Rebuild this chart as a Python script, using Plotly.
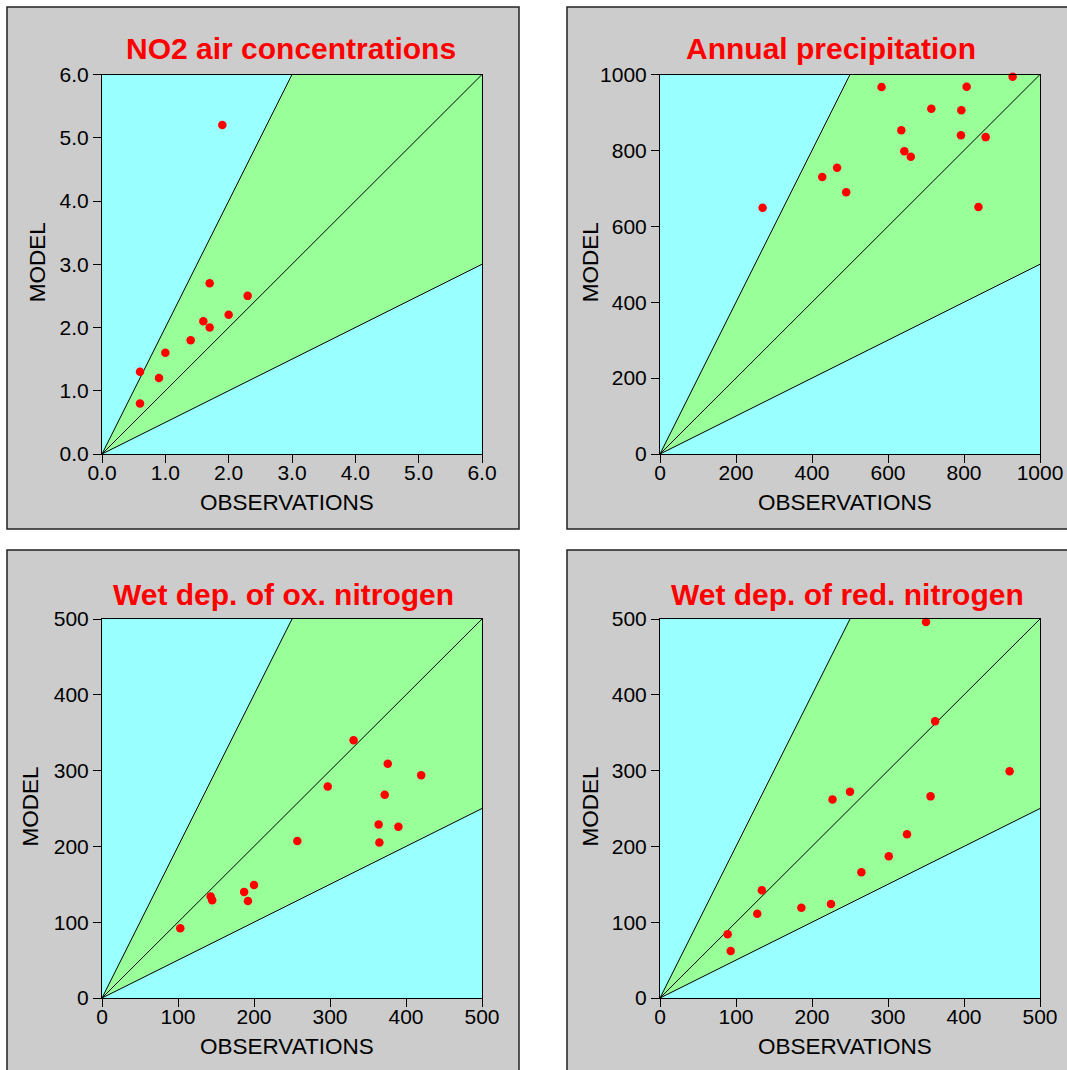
import plotly.graph_objects as go

W, H = 1067, 1070

# ---------------- data ----------------
titles = ["NO2 air concentrations", "Annual precipitation",
          "Wet dep. of ox. nitrogen", "Wet dep. of red. nitrogen"]
axis_max = [6.0, 1000, 500, 500]
dticks = [1.0, 200, 100, 100]
tickformats = [".1f", "d", "d", "d"]

no2_obs = [1.9, 1.7, 2.3, 2.0, 1.6, 1.7, 1.4, 1.0, 0.6, 0.9, 0.6]
no2_mod = [5.2, 2.7, 2.5, 2.2, 2.1, 2.0, 1.8, 1.6, 1.3, 1.2, 0.8]

prec_obs = [270, 427, 466, 490, 583, 635, 643, 660, 714, 793, 792, 807, 838, 857, 928]
prec_mod = [649, 730, 754, 690, 967, 853, 798, 783, 910, 906, 840, 968, 651, 835, 994]

oxn_obs = [103, 143, 145, 187, 192, 200, 257, 297, 331, 364, 365, 372, 376, 390, 420]
oxn_mod = [92, 134, 129, 140, 128, 149, 207, 279, 340, 229, 205, 268, 309, 226, 294]

redn_obs = [89, 93, 128, 134, 186, 225, 227, 250, 265, 301, 325, 350, 356, 362, 460]
redn_mod = [84, 62, 111, 142, 119, 124, 262, 272, 166, 187, 216, 496, 266, 365, 299]

obs_sets = [no2_obs, prec_obs, oxn_obs, redn_obs]
mod_sets = [no2_mod, prec_mod, oxn_mod, redn_mod]

# ---------------- layout geometry (pixels) ----------------
FONT = "Liberation Sans, Arial, sans-serif"
CYAN = "#99FFFF"
GREEN = "#99FF99"
GREY = "#CCCCCC"

# plot areas: (left, right, top, bottom) in px
plot_px = [(102, 482, 74.5, 454), (660, 1040, 74.5, 454),
           (102, 482, 619, 998), (660, 1040, 619, 998)]
# panel boxes (left, right, top, bottom)
box_px = [(7, 519, 7, 529), (567, 1075, 7, 529),
          (7, 519, 550, 1080), (567, 1075, 550, 1080)]
title_cx = [291, 831, 283, 847]
title_cy = [49, 49, 594, 594]
model_cx = [37, 590, 30, 590]


def px_x(x):
    return x / W


def px_y(y):
    return 1 - y / H


fig = go.Figure()
layout = dict(
    width=W, height=H, autosize=False,
    margin=dict(l=0, r=0, t=0, b=0, pad=0, autoexpand=False),
    paper_bgcolor="white",
    plot_bgcolor="rgba(0,0,0,0)",
    showlegend=False,
    shapes=[], annotations=[],
)

for i in range(4):
    n = "" if i == 0 else str(i + 1)
    xa, ya = "x" + n, "y" + n
    m = axis_max[i]
    l, r, t, b = plot_px[i]

    # cyan background and green factor-of-two band
    fig.add_trace(go.Scatter(x=[0, m, m, 0, 0], y=[0, 0, m, m, 0], fill="toself",
                             fillcolor=CYAN, line=dict(width=0), mode="lines",
                             hoverinfo="skip", xaxis=xa, yaxis=ya))
    fig.add_trace(go.Scatter(x=[0, m / 2, m, m, 0], y=[0, m, m, m / 2, 0], fill="toself",
                             fillcolor=GREEN, line=dict(width=0), mode="lines",
                             hoverinfo="skip", xaxis=xa, yaxis=ya))
    for fx, fy in [(m / 2, m), (m, m), (m, m / 2)]:
        fig.add_trace(go.Scatter(x=[0, fx], y=[0, fy], mode="lines",
                                 line=dict(color="black", width=1),
                                 hoverinfo="skip", xaxis=xa, yaxis=ya))
    fig.add_trace(go.Scatter(x=obs_sets[i], y=mod_sets[i], mode="markers",
                             marker=dict(color="#FF0000", size=8.5),
                             cliponaxis=False, xaxis=xa, yaxis=ya))

    common = dict(range=[0, m], dtick=dticks[i], tick0=0, tickformat=tickformats[i],
                  showgrid=False, zeroline=False, showline=True, mirror=True,
                  linecolor="black", linewidth=1, ticks="outside", ticklen=8,
                  tickcolor="black", tickwidth=1, automargin=False,
                  tickfont=dict(family=FONT, size=21, color="black"),
                  fixedrange=True)
    layout["xaxis" + n] = dict(common, domain=[px_x(l), px_x(r)], anchor=ya,
                               ticklabelstandoff=-8)
    layout["yaxis" + n] = dict(common, domain=[px_y(b), px_y(t)], anchor=xa)

    bl, br, bt, bb = box_px[i]
    layout["shapes"].append(dict(type="rect", xref="paper", yref="paper",
                                 x0=px_x(bl), x1=px_x(br), y0=px_y(bb), y1=px_y(bt),
                                 fillcolor=GREY, line=dict(color="#222222", width=1.5),
                                 layer="below"))

    layout["annotations"].append(dict(
        text="<b>%s</b>" % titles[i], xref="paper", yref="paper",
        x=px_x(title_cx[i]), y=px_y(title_cy[i]), xanchor="center", yanchor="middle",
        showarrow=False, font=dict(family=FONT, size=30, color="#FF0000")))
    layout["annotations"].append(dict(
        text="OBSERVATIONS", xref="paper", yref="paper",
        x=px_x((l + r) / 2 - 5), y=px_y(b + 48), xanchor="center", yanchor="middle",
        showarrow=False, font=dict(family=FONT, size=22.5, color="black")))
    layout["annotations"].append(dict(
        text="MODEL", xref="paper", yref="paper", textangle=-90,
        x=px_x(model_cx[i]), y=px_y((t + b) / 2 - 2), xanchor="center", yanchor="middle",
        showarrow=False, font=dict(family=FONT, size=22.5, color="black")))

fig.update_layout(**layout)
fig.write_html(
    "out.html",
    config={"displayModeBar": False},
    post_script="document.body.style.margin='0';document.body.style.overflow='hidden';",
)
